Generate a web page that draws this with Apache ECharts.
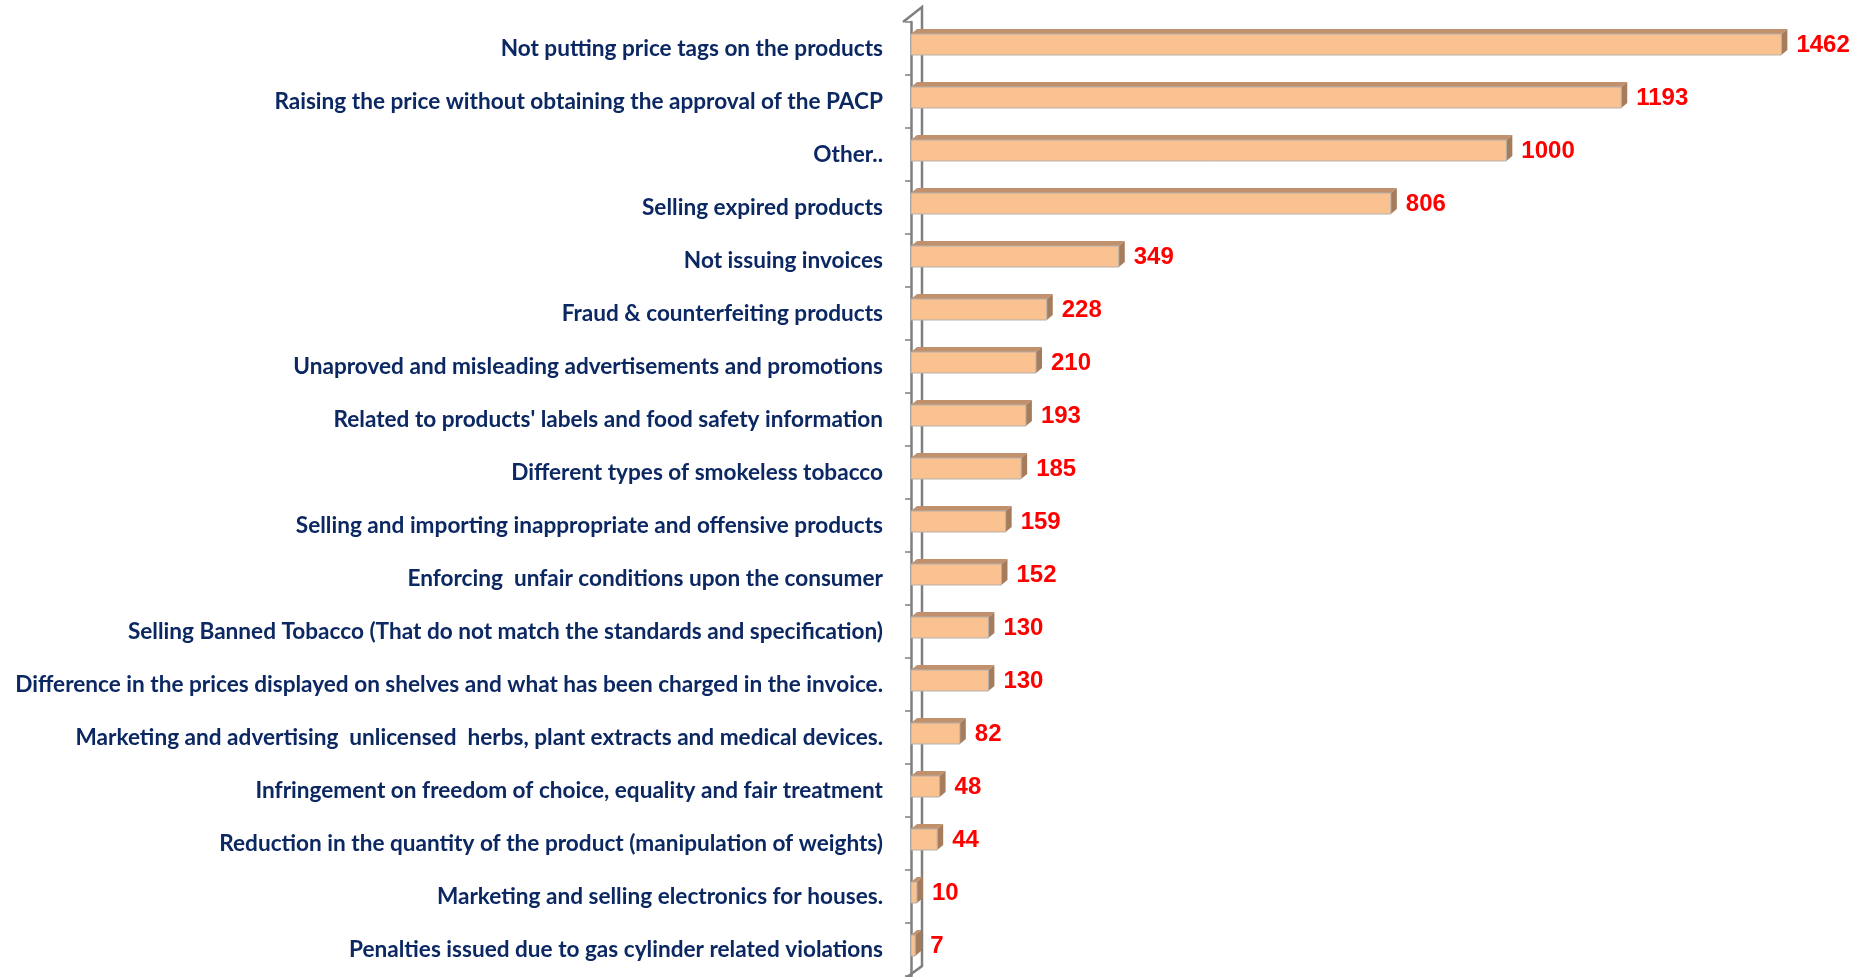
<!DOCTYPE html>
<html>
<head>
<meta charset="utf-8">
<script src="https://cdn.jsdelivr.net/npm/echarts@6/dist/echarts.min.js"></script>
<style>
  html, body { margin: 0; padding: 0; background: #fff; }
  #chart { width: 1863px; height: 977px; }
</style>
</head>
<body>
<div id="chart"></div>
<script>
// categories, top to bottom
var categories = [
  "Not putting price tags on the products",
  "Raising the price without obtaining the approval of the PACP",
  "Other..",
  "Selling expired products",
  "Not issuing invoices",
  "Fraud & counterfeiting products",
  "Unaproved and misleading advertisements and promotions",
  "Related to products' labels and food safety information",
  "Different types of smokeless tobacco",
  "Selling and importing inappropriate and offensive products",
  "Enforcing  unfair conditions upon the consumer",
  "Selling Banned Tobacco (That do not match the standards and specification)",
  "Difference in the prices displayed on shelves and what has been charged in the invoice.",
  "Marketing and advertising  unlicensed  herbs, plant extracts and medical devices.",
  "Infringement on freedom of choice, equality and fair treatment",
  "Reduction in the quantity of the product (manipulation of weights)",
  "Marketing and selling electronics for houses.",
  "Penalties issued due to gas cylinder related violations"
];
var violations = [1462, 1193, 1000, 806, 349, 228, 210, 193, 185, 159, 152, 130, 130, 82, 48, 44, 10, 7];

var LABEL_FONT = 'Lato, "Liberation Sans", sans-serif';
var VALUE_FONT = '"Liberation Sans", sans-serif';
var GRID_LEFT = 911, GRID_TOP = 22, GRID_H = 954;
var AXIS_SHIFT = 8;      // front wall line sits left of the bar zero
var WALL_DX = 19, WALL_DY = 15;
var BAR_DX = 6, BAR_DY = 5, BAR_H = 21;
var WALL_COLOR = '#7F7F7F';

var chart = echarts.init(document.getElementById('chart'));

function renderBar(params, api) {
  var v = api.value(0), c = api.value(1);
  var s = api.coord([0, c]);
  var e = api.coord([v, c]);
  var x0 = s[0], x1 = e[0];
  var cy = s[1] - 4;
  var top = cy - BAR_H / 2, bot = cy + BAR_H / 2;
  return {
    type: 'group',
    children: [
      {
        type: 'polygon',
        shape: { points: [[x0, top], [x0 + BAR_DX, top - BAR_DY], [x1 + BAR_DX, top - BAR_DY], [x1, top]] },
        style: { fill: '#C0916C' }
      },
      {
        type: 'polygon',
        shape: { points: [[x1, top], [x1 + BAR_DX, top - BAR_DY], [x1 + BAR_DX, bot - BAR_DY], [x1, bot]] },
        style: { fill: '#A67D5C' }
      },
      {
        type: 'rect',
        shape: { x: x0, y: top, width: x1 - x0, height: BAR_H },
        style: { fill: '#FAC191', stroke: '#B5B0AA', lineWidth: 1 }
      },
      {
        type: 'text',
        style: {
          x: x1 + BAR_DX + 9, y: cy + 1,
          text: String(v),
          fill: '#FF0000',
          font: 'bold 24px ' + VALUE_FONT,
          verticalAlign: 'middle', align: 'left'
        }
      }
    ]
  };
}

var option = {
  animation: false,
  grid: {
    left: GRID_LEFT, top: GRID_TOP, height: GRID_H, right: 59,
    containLabel: false, outerBoundsMode: 'none'
  },
  xAxis: {
    type: 'value', min: 0, max: 1500,
    show: false
  },
  yAxis: {
    type: 'category',
    inverse: true,
    data: categories,
    offset: AXIS_SHIFT,
    axisLine: { show: true, lineStyle: { color: WALL_COLOR, width: 2.5 } },
    axisTick: { show: true, length: 6, lineStyle: { color: WALL_COLOR, width: 1.5 } },
    axisLabel: {
      margin: 20,
      color: '#0C2862',
      fontWeight: 'bold',
      fontSize: 22.6,
      fontFamily: LABEL_FONT
    },
    splitLine: { show: false }
  },
  graphic: [{
    type: 'polyline',
    z: 1,
    shape: {
      points: [
        [GRID_LEFT - AXIS_SHIFT, GRID_TOP],
        [GRID_LEFT - AXIS_SHIFT + WALL_DX, GRID_TOP - WALL_DY],
        [GRID_LEFT - AXIS_SHIFT + WALL_DX, GRID_TOP + GRID_H - 10],
        [GRID_LEFT - AXIS_SHIFT, GRID_TOP + GRID_H + 4]
      ]
    },
    style: { stroke: WALL_COLOR, lineWidth: 2.5, fill: null }
  }],
  series: [{
    type: 'custom',
    z: 10,
    renderItem: renderBar,
    encode: { x: 0, y: 1 },
    data: violations.map(function (v, i) { return [v, i]; })
  }]
};

chart.setOption(option);
</script>
</body>
</html>
